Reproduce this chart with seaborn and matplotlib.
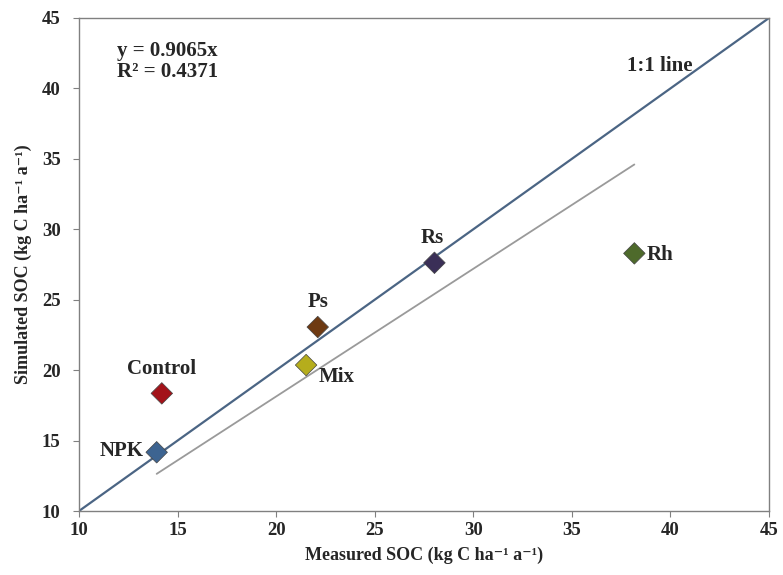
import matplotlib
matplotlib.use("Agg")
import matplotlib.pyplot as plt
import seaborn as sns
import numpy as np
import pandas as pd

treatments = ["NPK", "Control", "Mix", "Ps", "Rs", "Rh"]
measured = [13.94, 14.2, 21.52, 22.11, 28.03, 38.17]
simulated = [14.17, 18.35, 20.36, 23.06, 27.62, 28.29]
colors = ["#3d6491", "#a3131a", "#b5ad1c", "#6e3a12", "#3a2f57", "#4e6a2b"]
slope = 0.9065
r2 = 0.4371
ticks = [10, 15, 20, 25, 30, 35, 40, 45]

sns.set_style("white")
plt.rcParams["font.family"] = ["Liberation Serif", "DejaVu Serif"]
plt.rcParams["font.weight"] = "bold"

df = pd.DataFrame({"Measured": measured, "Simulated": simulated, "Treatment": treatments})

fig = plt.figure(figsize=(7.83, 5.75), dpi=100)
ax = fig.add_axes([79 / 783, 1 - 511 / 575, 690 / 783, 493 / 575])

# 1:1 line
sns.lineplot(x=[10, 45], y=[10, 45], ax=ax, color="#4b6584", lw=1.6, zorder=2)
# regression line through origin
xr = np.array([min(measured), max(measured)])
sns.lineplot(x=xr, y=slope * xr, ax=ax, color="#9a9a9a", lw=1.3, zorder=2)

sns.scatterplot(data=df, x="Measured", y="Simulated", hue="Treatment",
                palette=dict(zip(treatments, colors)), marker="D", s=120,
                edgecolor="#444444", linewidth=0.5, legend=False, ax=ax, zorder=3)

offsets = {"NPK": (-25, 1), "Control": (0, 17.5), "Ps": (0, 18), "Mix": (22, -8.6),
           "Rs": (-1.5, 17.8), "Rh": (18.5, -1.2)}
for t, x, y in zip(treatments, measured, simulated):
    ax.annotate(t, (x, y), xytext=offsets[t], textcoords="offset points",
                ha="center", va="center", fontsize=15, fontweight="bold")

ax.text(11.93, 42.65, f"y = {slope}x", fontsize=15, fontweight="bold", va="center", ha="left")
ax.text(11.93, 41.16, f"R² = {r2}", fontsize=15, fontweight="bold", va="center", ha="left")
ax.text(39.48, 41.58, "1:1 line", fontsize=15, fontweight="bold", va="center", ha="center")

ax.set_xlim(10, 45)
ax.set_ylim(10, 45)
ax.set_xticks(ticks)
ax.set_yticks(ticks)
ax.tick_params(axis="both", labelsize=13.5, length=4.3, width=0.8, color="#808080",
               direction="out", bottom=True, left=True)
ax.tick_params(axis="y", pad=9)
for lab in ax.get_xticklabels() + ax.get_yticklabels():
    lab.set_fontweight("bold")
for s in ax.spines.values():
    s.set_color("#808080")
    s.set_linewidth(1.0)

ax.set_xlabel("Measured SOC (kg C ha⁻¹ a⁻¹)", fontsize=13,
              fontweight="bold", labelpad=6)
ax.set_ylabel("Simulated SOC (kg C ha⁻¹ a⁻¹)", fontsize=13,
              fontweight="bold", labelpad=7)

fig.savefig("out.png", dpi=100)
